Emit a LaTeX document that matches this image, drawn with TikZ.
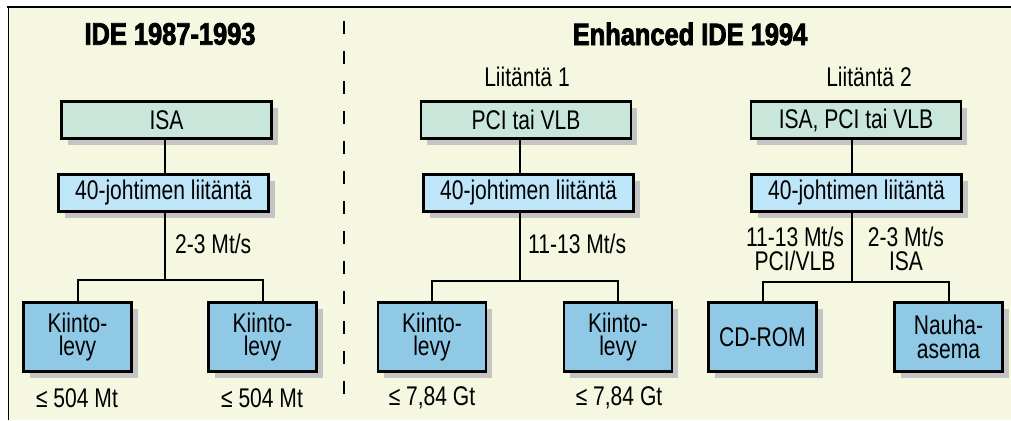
\documentclass[tikz,border=0pt]{standalone}
\usepackage{fontspec}
\setmainfont{Liberation Sans}[FakeStretch=0.78]
\newfontfamily\headfont{Liberation Sans}[FakeStretch=0.82,BoldFeatures={FakeBold=2.5}]
\usepackage{tikz}
\usetikzlibrary{positioning,shadows,calc}
\definecolor{paper}{RGB}{246,247,225}
\definecolor{busgreen}{RGB}{200,230,218}
\definecolor{portblue}{RGB}{190,229,248}
\definecolor{devblue}{RGB}{143,201,230}
\definecolor{shade}{RGB}{196,196,196}
\newcommand{\txt}{\fontsize{27}{23.5}\selectfont}
\newcommand{\hdr}{\headfont\bfseries\fontsize{31}{32}\selectfont}

\begin{document}
\begin{tikzpicture}[x=1pt, y=-1pt,
  box/.style={rectangle, draw=black, line width=2.6pt, inner sep=0pt, font=\txt,
              align=center, drop shadow={shadow xshift=6pt, shadow yshift=-6pt, fill=shade, opacity=1}},
  bus/.style={box, fill=busgreen, minimum width=210pt, minimum height=37pt},
  port/.style={box, fill=portblue, minimum width=210pt, minimum height=37pt},
  dev/.style={box, fill=devblue, minimum width=108pt, minimum height=69pt},
  lbl/.style={font=\txt, inner sep=0pt, align=center},
  hd/.style={font=\hdr, inner sep=0pt},
  ln/.style={line width=2pt},
]
\useasboundingbox (0,0) rectangle (1011,420);
\fill[paper] (8,8) rectangle (1011,420);
\draw[line width=2pt] (7,7) -- (1011,7);
\draw[line width=1pt] (8,7) -- (8,420);
\draw[line width=2.5pt, dash pattern=on 13pt off 17pt] (344,21) -- (344,410);

\node[hd] (h1) at (170,34) {IDE 1987-1993};
\node[hd] (h2) at (690,34) {Enhanced IDE 1994};
\node[lbl] (if1) at (527,77) {Liitäntä 1};
\node[lbl] (if2) at (869,77) {Liitäntä 2};

\node[bus] (isa)   at (166.5,120) {ISA};
\node[bus] (pci)   at (526,120)   {PCI tai VLB};
\node[bus] (multi) at (856,120)   {ISA, PCI tai VLB};

\node[port] (j1) at (163.5,193) {40-johtimen liitäntä};
\node[port] (j2) at (528.5,193) {40-johtimen liitäntä};
\node[port] (j3) at (856.5,193) {40-johtimen liitäntä};

\node[dev] (d1)   at (77.5,337)  {Kiinto-\\levy};
\node[dev] (d2)   at (262.5,337) {Kiinto-\\levy};
\node[dev] (d3)   at (432,337)   {Kiinto-\\levy};
\node[dev] (d4)   at (618,337)   {Kiinto-\\levy};
\node[dev] (cd)   at (762.5,337) {CD-ROM};
\node[dev] (tape) at (948.5,337) {Nauha-\\asema};

\coordinate (t1) at (165,280);
\coordinate (t2) at (520,281);
\coordinate (t3) at (852,282);

\foreach \u/\m/\t/\l/\r in {isa/j1/t1/d1/d2, pci/j2/t2/d3/d4, multi/j3/t3/cd/tape} {
  \draw[ln] (\u.south -| \t) -- (\m.north -| \t);
  \draw[ln] (\m.south -| \t) -- (\t);
  \draw[ln] (\l.north) |- (\t) -| (\r.north);
}

\node[lbl, anchor=west] (r1) at (175,244) {2-3 Mt/s};
\node[lbl, anchor=west] (r2) at (528,244) {11-13 Mt/s};
\node[lbl] (r3) at (795,249) {11-13 Mt/s\\PCI/VLB};
\node[lbl] (r4) at (906,249) {2-3 Mt/s\\ISA};

\node[lbl] (c1) at (77,398)  {≤ 504 Mt};
\node[lbl] (c2) at (262,398) {≤ 504 Mt};
\node[lbl] (c3) at (432,398) {≤ 7,84 Gt};
\node[lbl] (c4) at (619,398) {≤ 7,84 Gt};
\end{tikzpicture}
\end{document}
